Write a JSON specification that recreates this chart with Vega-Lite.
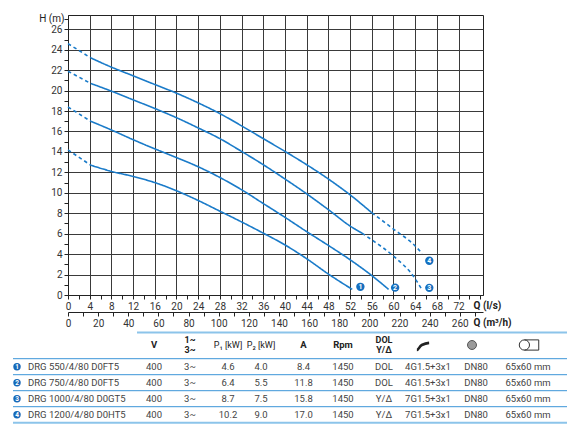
{
  "$schema": "https://vega.github.io/schema/vega-lite/v6.json",
  "padding": {"left": 12, "top": 13, "right": 0, "bottom": 0},
  "bounds": "flush",
  "spacing": 37,
  "datasets": {
    "curves": [
      {"pump": 1, "part": "start", "q": 0, "h": 14.2},
      {"pump": 1, "part": "start", "q": 4.2, "h": 12.7},
      {"pump": 1, "part": "run", "q": 4.2, "h": 12.7},
      {"pump": 1, "part": "run", "q": 8, "h": 12.1},
      {"pump": 1, "part": "run", "q": 12, "h": 11.6},
      {"pump": 1, "part": "run", "q": 16, "h": 11.0},
      {"pump": 1, "part": "run", "q": 20, "h": 10.2},
      {"pump": 1, "part": "run", "q": 24, "h": 9.25},
      {"pump": 1, "part": "run", "q": 28, "h": 8.2},
      {"pump": 1, "part": "run", "q": 32, "h": 7.15},
      {"pump": 1, "part": "run", "q": 36, "h": 6.05},
      {"pump": 1, "part": "run", "q": 40, "h": 4.9},
      {"pump": 1, "part": "run", "q": 44, "h": 3.55},
      {"pump": 1, "part": "run", "q": 48, "h": 2.05},
      {"pump": 1, "part": "run", "q": 52.4, "h": 0.55},
      {"pump": 2, "part": "start", "q": 0, "h": 18.4},
      {"pump": 2, "part": "start", "q": 4.2, "h": 17.0},
      {"pump": 2, "part": "run", "q": 4.2, "h": 17.0},
      {"pump": 2, "part": "run", "q": 8, "h": 16.15},
      {"pump": 2, "part": "run", "q": 12, "h": 15.2},
      {"pump": 2, "part": "run", "q": 16, "h": 14.3},
      {"pump": 2, "part": "run", "q": 20, "h": 13.45},
      {"pump": 2, "part": "run", "q": 24, "h": 12.55},
      {"pump": 2, "part": "run", "q": 28, "h": 11.5},
      {"pump": 2, "part": "run", "q": 32, "h": 10.3},
      {"pump": 2, "part": "run", "q": 36, "h": 8.95},
      {"pump": 2, "part": "run", "q": 40, "h": 7.6},
      {"pump": 2, "part": "run", "q": 44, "h": 6.2},
      {"pump": 2, "part": "run", "q": 48, "h": 4.85},
      {"pump": 2, "part": "run", "q": 52, "h": 3.45},
      {"pump": 2, "part": "run", "q": 56, "h": 1.9},
      {"pump": 2, "part": "run", "q": 59.1, "h": 0.55},
      {"pump": 3, "part": "start", "q": 0, "h": 21.9},
      {"pump": 3, "part": "start", "q": 4.2, "h": 20.7},
      {"pump": 3, "part": "run", "q": 4.2, "h": 20.7},
      {"pump": 3, "part": "run", "q": 8, "h": 19.95},
      {"pump": 3, "part": "run", "q": 12, "h": 19.1},
      {"pump": 3, "part": "run", "q": 16, "h": 18.25},
      {"pump": 3, "part": "run", "q": 20, "h": 17.35},
      {"pump": 3, "part": "run", "q": 24, "h": 16.35},
      {"pump": 3, "part": "run", "q": 28, "h": 15.3},
      {"pump": 3, "part": "run", "q": 32, "h": 14.05},
      {"pump": 3, "part": "run", "q": 36, "h": 12.75},
      {"pump": 3, "part": "run", "q": 40, "h": 11.35},
      {"pump": 3, "part": "run", "q": 44, "h": 9.9},
      {"pump": 3, "part": "run", "q": 48, "h": 8.35},
      {"pump": 3, "part": "run", "q": 52, "h": 6.75},
      {"pump": 3, "part": "run", "q": 54.2, "h": 6.05},
      {"pump": 3, "part": "end", "q": 54.2, "h": 6.05},
      {"pump": 3, "part": "end", "q": 56, "h": 5.4},
      {"pump": 3, "part": "end", "q": 60, "h": 3.8},
      {"pump": 3, "part": "end", "q": 64, "h": 1.6},
      {"pump": 3, "part": "end", "q": 65.1, "h": 0.65},
      {"pump": 4, "part": "start", "q": 0, "h": 24.6},
      {"pump": 4, "part": "start", "q": 4.2, "h": 23.2},
      {"pump": 4, "part": "run", "q": 4.2, "h": 23.2},
      {"pump": 4, "part": "run", "q": 8, "h": 22.3},
      {"pump": 4, "part": "run", "q": 12, "h": 21.45},
      {"pump": 4, "part": "run", "q": 16, "h": 20.6},
      {"pump": 4, "part": "run", "q": 20, "h": 19.75},
      {"pump": 4, "part": "run", "q": 24, "h": 18.8},
      {"pump": 4, "part": "run", "q": 28, "h": 17.75},
      {"pump": 4, "part": "run", "q": 32, "h": 16.55},
      {"pump": 4, "part": "run", "q": 36, "h": 15.3},
      {"pump": 4, "part": "run", "q": 40, "h": 14.05},
      {"pump": 4, "part": "run", "q": 44, "h": 12.75},
      {"pump": 4, "part": "run", "q": 48, "h": 11.35},
      {"pump": 4, "part": "run", "q": 52, "h": 9.8},
      {"pump": 4, "part": "run", "q": 56, "h": 8.05},
      {"pump": 4, "part": "end", "q": 56, "h": 8.05},
      {"pump": 4, "part": "end", "q": 60, "h": 6.45},
      {"pump": 4, "part": "end", "q": 64, "h": 4.8},
      {"pump": 4, "part": "end", "q": 65.3, "h": 4.05}
    ],
    "markers": [
      {"pump": 1, "q": 53.9, "h": 0.8},
      {"pump": 2, "q": 60.3, "h": 0.72},
      {"pump": 3, "q": 66.6, "h": 0.7},
      {"pump": 4, "q": 66.6, "h": 3.35}
    ],
    "pumps": [
      {"no": 1, "model": "DRG 550/4/80 D0FT5", "v": "400", "phase": "3~", "p1": "4.6", "p2": "4.0", "amps": "8.4", "rpm": "1450", "start": "DOL", "cable": "4G1.5+3x1", "flange": "DN80", "dims": "65x60 mm"},
      {"no": 2, "model": "DRG 750/4/80 D0FT5", "v": "400", "phase": "3~", "p1": "6.4", "p2": "5.5", "amps": "11.8", "rpm": "1450", "start": "DOL", "cable": "4G1.5+3x1", "flange": "DN80", "dims": "65x60 mm"},
      {"no": 3, "model": "DRG 1000/4/80 D0GT5", "v": "400", "phase": "3~", "p1": "8.7", "p2": "7.5", "amps": "15.8", "rpm": "1450", "start": "Y/Δ", "cable": "7G1.5+3x1", "flange": "DN80", "dims": "65x60 mm"},
      {"no": 4, "model": "DRG 1200/4/80 D0HT5", "v": "400", "phase": "3~", "p1": "10.2", "p2": "9.0", "amps": "17.0", "rpm": "1450", "start": "Y/Δ", "cable": "7G1.5+3x1", "flange": "DN80", "dims": "65x60 mm"}
    ]
  },
  "vconcat": [
    {
      "width": 415,
      "height": 280,
      "view": {"stroke": "#222", "strokeWidth": 1},
      "layer": [
        {
          "layer": [
            {
              "data": {"name": "curves"},
              "mark": {"type": "line", "interpolate": "monotone", "strokeWidth": 1.6, "color": "#1a7bc9"},
              "encoding": {
                "x": {
                  "field": "q",
                  "type": "quantitative",
                  "scale": {"domain": [0, 76.5], "nice": false, "zero": false},
                  "axis": {
                    "values": [0, 2, 4, 6, 8, 10, 12, 14, 16, 18, 20, 22, 24, 26, 28, 30, 32, 34, 36, 38, 40, 42, 44, 46, 48, 50, 52, 54, 56, 58, 60, 62, 64, 66, 68, 70, 72, 74, 76],
                    "labelExpr": "datum.value % 4 === 0 && datum.value <= 72 ? datum.label : ''",
                    "labelFlush": false,
                    "labelOverlap": false,
                    "grid": true,
                    "gridColor": "#3a3a3a",
                    "gridOpacity": {"condition": {"test": "datum.value % 4 === 0 && datum.value > 0 && datum.value < 76", "value": 1}, "value": 0},
                    "title": "Q (l/s)",
                    "titleX": 405,
                    "titleY": 10,
                    "titleAlign": "left",
                    "titleBaseline": "middle",
                    "titleFontSize": 10,
                    "titleFontWeight": "bold",
                    "titleColor": "#222"
                  }
                },
                "y": {
                  "field": "h",
                  "type": "quantitative",
                  "scale": {"domain": [0, 27.4], "nice": false, "zero": false},
                  "axis": {
                    "values": [0, 1, 2, 3, 4, 5, 6, 7, 8, 9, 10, 11, 12, 13, 14, 15, 16, 17, 18, 19, 20, 21, 22, 23, 24, 25, 26, 27],
                    "labelExpr": "datum.value % 2 === 0 ? datum.label : ''",
                    "labelFlush": false,
                    "labelOverlap": false,
                    "grid": true,
                    "gridColor": "#3a3a3a",
                    "gridOpacity": {"condition": {"test": "datum.value % 2 === 0 && datum.value > 0", "value": 1}, "value": 0},
                    "title": "H (m)",
                    "titleAngle": 0,
                    "titleX": -4,
                    "titleY": 3.5,
                    "titleAlign": "right",
                    "titleBaseline": "middle",
                    "titleFontSize": 10,
                    "titleFontWeight": "normal",
                    "titleColor": "#222"
                  }
                },
                "detail": [{"field": "pump"}, {"field": "part"}],
                "strokeDash": {
                  "field": "part",
                  "type": "nominal",
                  "scale": {"domain": ["start", "run", "end"], "range": [[3.5, 3], [1, 0], [3.5, 3]]},
                  "legend": null
                }
              }
            },
            {
              "data": {"name": "markers"},
              "mark": {"type": "point", "filled": true, "size": 70, "color": "#1570c0", "opacity": 1},
              "encoding": {
                "x": {"field": "q", "type": "quantitative", "axis": null},
                "y": {"field": "h", "type": "quantitative", "axis": null}
              }
            },
            {
              "data": {"name": "markers"},
              "mark": {"type": "text", "color": "white", "fontSize": 7, "fontWeight": "bold", "align": "center", "baseline": "middle", "dy": 0.5},
              "encoding": {
                "x": {"field": "q", "type": "quantitative", "axis": null},
                "y": {"field": "h", "type": "quantitative", "axis": null},
                "text": {"field": "pump"}
              }
            }
          ],
          "resolve": {"axis": {"x": "independent", "y": "independent"}}
        },
        {
          "data": {"values": [{}]},
          "mark": {"type": "point", "opacity": 0},
          "encoding": {
            "x": {
              "datum": 0,
              "type": "quantitative",
              "scale": {"domain": [0, 275.4], "nice": false, "zero": false},
              "axis": {
                "orient": "bottom",
                "offset": 17,
                "values": [0, 10, 20, 30, 40, 50, 60, 70, 80, 90, 100, 110, 120, 130, 140, 150, 160, 170, 180, 190, 200, 210, 220, 230, 240, 250, 260, 270],
                "labelExpr": "datum.value % 20 === 0 && datum.value <= 260 ? datum.label : ''",
                "labelFlush": false,
                "labelOverlap": false,
                "grid": false,
                "title": "Q (m³/h)",
                "titleX": 405,
                "titleY": 10.5,
                "titleAlign": "left",
                "titleBaseline": "middle",
                "titleFontSize": 10,
                "titleFontWeight": "bold",
                "titleColor": "#222"
              }
            }
          }
        }
      ],
      "resolve": {"scale": {"x": "independent"}}
    },
    {
      "width": 500,
      "height": 90,
      "view": {"stroke": null},
      "layer": [
        {
          "data": {"values": [{}]},
          "mark": {"type": "rule", "color": "#8cc4ea", "strokeWidth": 2},
          "encoding": {
            "x": {"datum": 2.5, "type": "quantitative", "scale": {"domain": [0, 1, 2, 2.5, 3, 4, 5, 6, 7, 8, 9, 10, 11, 12, 13], "range": [-55, -51, -40, 69, 86, 122, 160, 193, 235.5, 275, 316, 360, 408, 460, 500], "nice": false, "zero": false}, "axis": null},
            "x2": {"datum": 13},
            "y": {"datum": -0.5, "type": "quantitative", "scale": {"domain": [-0.5, 0, 0.5, 4.5], "range": [0.5, 13, 26.7, 90.7], "nice": false, "zero": false}, "axis": null}
          }
        },
        {
          "data": {"values": [{}]},
          "mark": {"type": "rule", "color": "#3c96d8", "strokeWidth": 1},
          "encoding": {
            "x": {"datum": 0, "type": "quantitative", "scale": {"domain": [0, 1, 2, 2.5, 3, 4, 5, 6, 7, 8, 9, 10, 11, 12, 13], "range": [-55, -51, -40, 69, 86, 122, 160, 193, 235.5, 275, 316, 360, 408, 460, 500], "nice": false, "zero": false}, "axis": null},
            "x2": {"datum": 13},
            "y": {"datum": 0.5, "type": "quantitative", "scale": {"domain": [-0.5, 0, 0.5, 4.5], "range": [0.5, 13, 26.7, 90.7], "nice": false, "zero": false}, "axis": null}
          }
        },
        {
          "data": {"name": "pumps"},
          "mark": {"type": "rule", "yOffset": 8},
          "encoding": {
            "x": {"datum": 0, "type": "quantitative", "scale": {"domain": [0, 1, 2, 2.5, 3, 4, 5, 6, 7, 8, 9, 10, 11, 12, 13], "range": [-55, -51, -40, 69, 86, 122, 160, 193, 235.5, 275, 316, 360, 408, 460, 500], "nice": false, "zero": false}, "axis": null},
            "x2": {"datum": 13},
            "y": {"field": "no", "type": "quantitative", "scale": {"domain": [-0.5, 0, 0.5, 4.5], "range": [0.5, 13, 26.7, 90.7], "nice": false, "zero": false}, "axis": null},
            "color": {"condition": {"test": "datum.no === 4", "value": "#8cc4ea"}, "value": "#3c96d8"},
            "strokeWidth": {"condition": {"test": "datum.no === 4", "value": 2}, "value": 1}
          }
        },
        {
          "data": {"name": "pumps"},
          "mark": {"type": "point", "filled": true, "size": 55, "color": "#1769b8", "opacity": 1},
          "encoding": {
            "x": {"datum": 1, "type": "quantitative", "scale": {"domain": [0, 1, 2, 2.5, 3, 4, 5, 6, 7, 8, 9, 10, 11, 12, 13], "range": [-55, -51, -40, 69, 86, 122, 160, 193, 235.5, 275, 316, 360, 408, 460, 500], "nice": false, "zero": false}, "axis": null},
            "y": {"field": "no", "type": "quantitative", "scale": {"domain": [-0.5, 0, 0.5, 4.5], "range": [0.5, 13, 26.7, 90.7], "nice": false, "zero": false}, "axis": null}
          }
        },
        {
          "data": {"name": "pumps"},
          "mark": {"type": "text", "color": "white", "fontSize": 6.5, "fontWeight": "bold", "align": "center", "baseline": "middle", "dy": 0.5},
          "encoding": {
            "x": {"datum": 1, "type": "quantitative", "scale": {"domain": [0, 1, 2, 2.5, 3, 4, 5, 6, 7, 8, 9, 10, 11, 12, 13], "range": [-55, -51, -40, 69, 86, 122, 160, 193, 235.5, 275, 316, 360, 408, 460, 500], "nice": false, "zero": false}, "axis": null},
            "y": {"field": "no", "type": "quantitative", "scale": {"domain": [-0.5, 0, 0.5, 4.5], "range": [0.5, 13, 26.7, 90.7], "nice": false, "zero": false}, "axis": null},
            "text": {"field": "no"}
          }
        },
        {
          "data": {"name": "pumps"},
          "mark": {"type": "text", "color": "#444", "fontSize": 9.5, "align": "left", "baseline": "middle"},
          "encoding": {
            "x": {"datum": 2, "type": "quantitative", "scale": {"domain": [0, 1, 2, 2.5, 3, 4, 5, 6, 7, 8, 9, 10, 11, 12, 13], "range": [-55, -51, -40, 69, 86, 122, 160, 193, 235.5, 275, 316, 360, 408, 460, 500], "nice": false, "zero": false}, "axis": null},
            "y": {"field": "no", "type": "quantitative", "scale": {"domain": [-0.5, 0, 0.5, 4.5], "range": [0.5, 13, 26.7, 90.7], "nice": false, "zero": false}, "axis": null},
            "text": {"field": "model"}
          }
        },
        {
          "data": {"name": "pumps"},
          "mark": {"type": "text", "color": "#444", "fontSize": 9.5, "align": "center", "baseline": "middle"},
          "encoding": {
            "x": {"datum": 3, "type": "quantitative", "scale": {"domain": [0, 1, 2, 2.5, 3, 4, 5, 6, 7, 8, 9, 10, 11, 12, 13], "range": [-55, -51, -40, 69, 86, 122, 160, 193, 235.5, 275, 316, 360, 408, 460, 500], "nice": false, "zero": false}, "axis": null},
            "y": {"field": "no", "type": "quantitative", "scale": {"domain": [-0.5, 0, 0.5, 4.5], "range": [0.5, 13, 26.7, 90.7], "nice": false, "zero": false}, "axis": null},
            "text": {"field": "v"}
          }
        },
        {
          "data": {"name": "pumps"},
          "mark": {"type": "text", "color": "#444", "fontSize": 9.5, "align": "center", "baseline": "middle"},
          "encoding": {
            "x": {"datum": 4, "type": "quantitative", "scale": {"domain": [0, 1, 2, 2.5, 3, 4, 5, 6, 7, 8, 9, 10, 11, 12, 13], "range": [-55, -51, -40, 69, 86, 122, 160, 193, 235.5, 275, 316, 360, 408, 460, 500], "nice": false, "zero": false}, "axis": null},
            "y": {"field": "no", "type": "quantitative", "scale": {"domain": [-0.5, 0, 0.5, 4.5], "range": [0.5, 13, 26.7, 90.7], "nice": false, "zero": false}, "axis": null},
            "text": {"field": "phase"}
          }
        },
        {
          "data": {"name": "pumps"},
          "mark": {"type": "text", "color": "#444", "fontSize": 9.5, "align": "center", "baseline": "middle"},
          "encoding": {
            "x": {"datum": 5, "type": "quantitative", "scale": {"domain": [0, 1, 2, 2.5, 3, 4, 5, 6, 7, 8, 9, 10, 11, 12, 13], "range": [-55, -51, -40, 69, 86, 122, 160, 193, 235.5, 275, 316, 360, 408, 460, 500], "nice": false, "zero": false}, "axis": null},
            "y": {"field": "no", "type": "quantitative", "scale": {"domain": [-0.5, 0, 0.5, 4.5], "range": [0.5, 13, 26.7, 90.7], "nice": false, "zero": false}, "axis": null},
            "text": {"field": "p1"}
          }
        },
        {
          "data": {"name": "pumps"},
          "mark": {"type": "text", "color": "#444", "fontSize": 9.5, "align": "center", "baseline": "middle"},
          "encoding": {
            "x": {"datum": 6, "type": "quantitative", "scale": {"domain": [0, 1, 2, 2.5, 3, 4, 5, 6, 7, 8, 9, 10, 11, 12, 13], "range": [-55, -51, -40, 69, 86, 122, 160, 193, 235.5, 275, 316, 360, 408, 460, 500], "nice": false, "zero": false}, "axis": null},
            "y": {"field": "no", "type": "quantitative", "scale": {"domain": [-0.5, 0, 0.5, 4.5], "range": [0.5, 13, 26.7, 90.7], "nice": false, "zero": false}, "axis": null},
            "text": {"field": "p2"}
          }
        },
        {
          "data": {"name": "pumps"},
          "mark": {"type": "text", "color": "#444", "fontSize": 9.5, "align": "center", "baseline": "middle"},
          "encoding": {
            "x": {"datum": 7, "type": "quantitative", "scale": {"domain": [0, 1, 2, 2.5, 3, 4, 5, 6, 7, 8, 9, 10, 11, 12, 13], "range": [-55, -51, -40, 69, 86, 122, 160, 193, 235.5, 275, 316, 360, 408, 460, 500], "nice": false, "zero": false}, "axis": null},
            "y": {"field": "no", "type": "quantitative", "scale": {"domain": [-0.5, 0, 0.5, 4.5], "range": [0.5, 13, 26.7, 90.7], "nice": false, "zero": false}, "axis": null},
            "text": {"field": "amps"}
          }
        },
        {
          "data": {"name": "pumps"},
          "mark": {"type": "text", "color": "#444", "fontSize": 9.5, "align": "center", "baseline": "middle"},
          "encoding": {
            "x": {"datum": 8, "type": "quantitative", "scale": {"domain": [0, 1, 2, 2.5, 3, 4, 5, 6, 7, 8, 9, 10, 11, 12, 13], "range": [-55, -51, -40, 69, 86, 122, 160, 193, 235.5, 275, 316, 360, 408, 460, 500], "nice": false, "zero": false}, "axis": null},
            "y": {"field": "no", "type": "quantitative", "scale": {"domain": [-0.5, 0, 0.5, 4.5], "range": [0.5, 13, 26.7, 90.7], "nice": false, "zero": false}, "axis": null},
            "text": {"field": "rpm"}
          }
        },
        {
          "data": {"name": "pumps"},
          "mark": {"type": "text", "color": "#444", "fontSize": 9.5, "align": "center", "baseline": "middle"},
          "encoding": {
            "x": {"datum": 9, "type": "quantitative", "scale": {"domain": [0, 1, 2, 2.5, 3, 4, 5, 6, 7, 8, 9, 10, 11, 12, 13], "range": [-55, -51, -40, 69, 86, 122, 160, 193, 235.5, 275, 316, 360, 408, 460, 500], "nice": false, "zero": false}, "axis": null},
            "y": {"field": "no", "type": "quantitative", "scale": {"domain": [-0.5, 0, 0.5, 4.5], "range": [0.5, 13, 26.7, 90.7], "nice": false, "zero": false}, "axis": null},
            "text": {"field": "start"}
          }
        },
        {
          "data": {"name": "pumps"},
          "mark": {"type": "text", "color": "#444", "fontSize": 9.5, "align": "center", "baseline": "middle"},
          "encoding": {
            "x": {"datum": 10, "type": "quantitative", "scale": {"domain": [0, 1, 2, 2.5, 3, 4, 5, 6, 7, 8, 9, 10, 11, 12, 13], "range": [-55, -51, -40, 69, 86, 122, 160, 193, 235.5, 275, 316, 360, 408, 460, 500], "nice": false, "zero": false}, "axis": null},
            "y": {"field": "no", "type": "quantitative", "scale": {"domain": [-0.5, 0, 0.5, 4.5], "range": [0.5, 13, 26.7, 90.7], "nice": false, "zero": false}, "axis": null},
            "text": {"field": "cable"}
          }
        },
        {
          "data": {"name": "pumps"},
          "mark": {"type": "text", "color": "#444", "fontSize": 9.5, "align": "center", "baseline": "middle"},
          "encoding": {
            "x": {"datum": 11, "type": "quantitative", "scale": {"domain": [0, 1, 2, 2.5, 3, 4, 5, 6, 7, 8, 9, 10, 11, 12, 13], "range": [-55, -51, -40, 69, 86, 122, 160, 193, 235.5, 275, 316, 360, 408, 460, 500], "nice": false, "zero": false}, "axis": null},
            "y": {"field": "no", "type": "quantitative", "scale": {"domain": [-0.5, 0, 0.5, 4.5], "range": [0.5, 13, 26.7, 90.7], "nice": false, "zero": false}, "axis": null},
            "text": {"field": "flange"}
          }
        },
        {
          "data": {"name": "pumps"},
          "mark": {"type": "text", "color": "#444", "fontSize": 9.5, "align": "center", "baseline": "middle"},
          "encoding": {
            "x": {"datum": 12, "type": "quantitative", "scale": {"domain": [0, 1, 2, 2.5, 3, 4, 5, 6, 7, 8, 9, 10, 11, 12, 13], "range": [-55, -51, -40, 69, 86, 122, 160, 193, 235.5, 275, 316, 360, 408, 460, 500], "nice": false, "zero": false}, "axis": null},
            "y": {"field": "no", "type": "quantitative", "scale": {"domain": [-0.5, 0, 0.5, 4.5], "range": [0.5, 13, 26.7, 90.7], "nice": false, "zero": false}, "axis": null},
            "text": {"field": "dims"}
          }
        },
        {
          "data": {"values": [{"col": 3, "label": "V"}, {"col": 7, "label": "A"}, {"col": 8, "label": "Rpm"}]},
          "mark": {"type": "text", "color": "#222", "fontSize": 9.5, "fontWeight": "bold", "align": "center", "baseline": "middle"},
          "encoding": {
            "x": {"field": "col", "type": "quantitative", "scale": {"domain": [0, 1, 2, 2.5, 3, 4, 5, 6, 7, 8, 9, 10, 11, 12, 13], "range": [-55, -51, -40, 69, 86, 122, 160, 193, 235.5, 275, 316, 360, 408, 460, 500], "nice": false, "zero": false}, "axis": null},
            "y": {"datum": 0, "type": "quantitative", "scale": {"domain": [-0.5, 0, 0.5, 4.5], "range": [0.5, 13, 26.7, 90.7], "nice": false, "zero": false}, "axis": null},
            "text": {"field": "label"}
          }
        },
        {
          "data": {"values": [{"col": 4, "label": ["1~", "3~"]}, {"col": 9, "label": ["DOL", "Y/Δ"]}]},
          "mark": {"type": "text", "color": "#222", "fontSize": 9, "fontWeight": "bold", "align": "center", "baseline": "middle", "lineHeight": 10, "dy": -5},
          "encoding": {
            "x": {"field": "col", "type": "quantitative", "scale": {"domain": [0, 1, 2, 2.5, 3, 4, 5, 6, 7, 8, 9, 10, 11, 12, 13], "range": [-55, -51, -40, 69, 86, 122, 160, 193, 235.5, 275, 316, 360, 408, 460, 500], "nice": false, "zero": false}, "axis": null},
            "y": {"datum": 0, "type": "quantitative", "scale": {"domain": [-0.5, 0, 0.5, 4.5], "range": [0.5, 13, 26.7, 90.7], "nice": false, "zero": false}, "axis": null},
            "text": {"field": "label"}
          }
        },
        {
          "data": {"values": [{"col": 5, "label": "P₁ [kW]"}, {"col": 6, "label": "P₂ [kW]"}]},
          "mark": {"type": "text", "color": "#222", "fontSize": 9, "align": "center", "baseline": "middle"},
          "encoding": {
            "x": {"field": "col", "type": "quantitative", "scale": {"domain": [0, 1, 2, 2.5, 3, 4, 5, 6, 7, 8, 9, 10, 11, 12, 13], "range": [-55, -51, -40, 69, 86, 122, 160, 193, 235.5, 275, 316, 360, 408, 460, 500], "nice": false, "zero": false}, "axis": null},
            "y": {"datum": 0, "type": "quantitative", "scale": {"domain": [-0.5, 0, 0.5, 4.5], "range": [0.5, 13, 26.7, 90.7], "nice": false, "zero": false}, "axis": null},
            "text": {"field": "label"}
          }
        },
        {
          "data": {"values": [{}]},
          "mark": {"type": "point", "shape": "M-1,0.8 C-0.7,0.8 -0.6,0.2 -0.2,0 C0.2,-0.2 0.4,-0.3 1,-0.35", "filled": false, "strokeWidth": 2.6, "color": "#222", "size": 150, "opacity": 1, "xOffset": -5},
          "encoding": {
            "x": {"datum": 10, "type": "quantitative", "scale": {"domain": [0, 1, 2, 2.5, 3, 4, 5, 6, 7, 8, 9, 10, 11, 12, 13], "range": [-55, -51, -40, 69, 86, 122, 160, 193, 235.5, 275, 316, 360, 408, 460, 500], "nice": false, "zero": false}, "axis": null},
            "y": {"datum": 0, "type": "quantitative", "scale": {"domain": [-0.5, 0, 0.5, 4.5], "range": [0.5, 13, 26.7, 90.7], "nice": false, "zero": false}, "axis": null}
          }
        },
        {
          "data": {"values": [{}]},
          "mark": {"type": "point", "shape": "circle", "filled": true, "fill": "#9a9a9a", "stroke": "#555", "strokeWidth": 1, "size": 80, "opacity": 1, "xOffset": -4},
          "encoding": {
            "x": {"datum": 11, "type": "quantitative", "scale": {"domain": [0, 1, 2, 2.5, 3, 4, 5, 6, 7, 8, 9, 10, 11, 12, 13], "range": [-55, -51, -40, 69, 86, 122, 160, 193, 235.5, 275, 316, 360, 408, 460, 500], "nice": false, "zero": false}, "axis": null},
            "y": {"datum": 0, "type": "quantitative", "scale": {"domain": [-0.5, 0, 0.5, 4.5], "range": [0.5, 13, 26.7, 90.7], "nice": false, "zero": false}, "axis": null}
          }
        },
        {
          "data": {"values": [{}]},
          "mark": {"type": "point", "shape": "M0.05,0 A0.5,0.5 0 1,1 -0.95,0 A0.5,0.5 0 1,1 0.05,0 Z M-0.45,-0.5 L0.95,-0.5 L0.95,0.5 L-0.45,0.5", "filled": false, "strokeWidth": 1, "color": "#333", "size": 420, "opacity": 1, "xOffset": 1},
          "encoding": {
            "x": {"datum": 12, "type": "quantitative", "scale": {"domain": [0, 1, 2, 2.5, 3, 4, 5, 6, 7, 8, 9, 10, 11, 12, 13], "range": [-55, -51, -40, 69, 86, 122, 160, 193, 235.5, 275, 316, 360, 408, 460, 500], "nice": false, "zero": false}, "axis": null},
            "y": {"datum": 0, "type": "quantitative", "scale": {"domain": [-0.5, 0, 0.5, 4.5], "range": [0.5, 13, 26.7, 90.7], "nice": false, "zero": false}, "axis": null}
          }
        }
      ]
    }
  ],
  "config": {
    "font": "Roboto",
    "view": {"stroke": null},
    "axis": {
      "labelFont": "Roboto",
      "labelFontSize": 10,
      "labelColor": "#333",
      "titleFont": "Roboto",
      "domainColor": "#222",
      "tickColor": "#222",
      "tickSize": 4,
      "labelPadding": 2
    },
    "text": {"font": "Roboto"}
  }
}
